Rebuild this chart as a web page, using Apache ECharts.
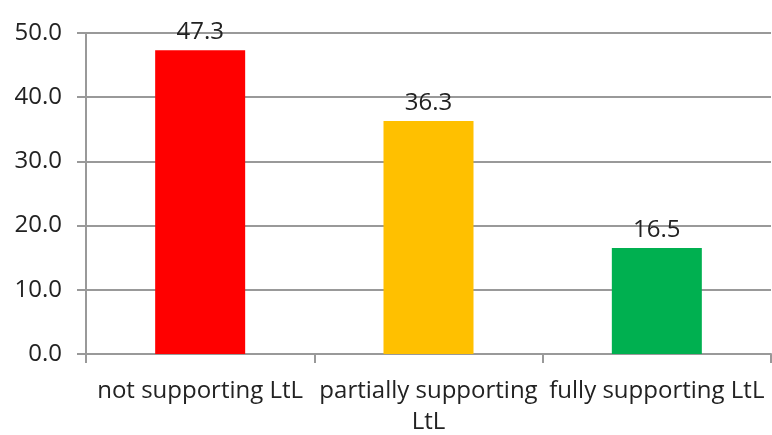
<!DOCTYPE html>
<html>
<head>
<meta charset="utf-8">
<script src="https://cdn.jsdelivr.net/npm/echarts@6/dist/echarts.min.js"></script>
<style>
  html, body { margin: 0; padding: 0; background: #fff; }
  #chart { width: 772px; height: 435px; }
</style>
</head>
<body>
<div id="chart"></div>
<script>
  // data
  var categories = ['not supporting LtL', 'partially supporting\nLtL', 'fully supporting LtL'];
  var values = [47.3, 36.3, 16.5];
  var barColors = ['#ff0000', '#ffc000', '#00b050'];

  var myChart = echarts.init(document.getElementById('chart'));
  var font = '"Open Sans", "DejaVu Sans", sans-serif';

  var options = {
    animation: false,
    grid: { left: 86, right: 1, top: 33, bottom: 81, containLabel: false, outerBoundsMode: 'none' },
    xAxis: {
      type: 'category',
      data: categories,
      axisLine: { lineStyle: { color: '#999', width: 2 } },
      axisTick: { show: true, length: 9, lineStyle: { color: '#999', width: 2 } },
      axisLabel: {
        color: '#222', fontSize: 24, fontFamily: font, margin: 22, interval: 0,
        lineHeight: 31, hideOverlap: false
      }
    },
    yAxis: {
      type: 'value',
      min: 0, max: 50, interval: 10,
      axisLine: { show: true, lineStyle: { color: '#999', width: 2 } },
      axisTick: { show: true, length: 9, lineStyle: { color: '#999', width: 2 } },
      splitLine: { lineStyle: { color: '#999', width: 2 } },
      axisLabel: {
        color: '#222', fontSize: 24, fontFamily: font, margin: 24,
        formatter: function (v) { return v.toFixed(1); }
      }
    },
    series: [{
      type: 'bar',
      barWidth: 90,
      data: values.map(function (v, i) {
        return { value: v, itemStyle: { color: barColors[i] } };
      }),
      label: {
        show: true, position: 'top', distance: 6,
        color: '#222', fontSize: 24, fontFamily: font,
        formatter: function (p) { return p.value.toFixed(1); }
      }
    }]
  };
  myChart.setOption(options);
</script>
</body>
</html>
